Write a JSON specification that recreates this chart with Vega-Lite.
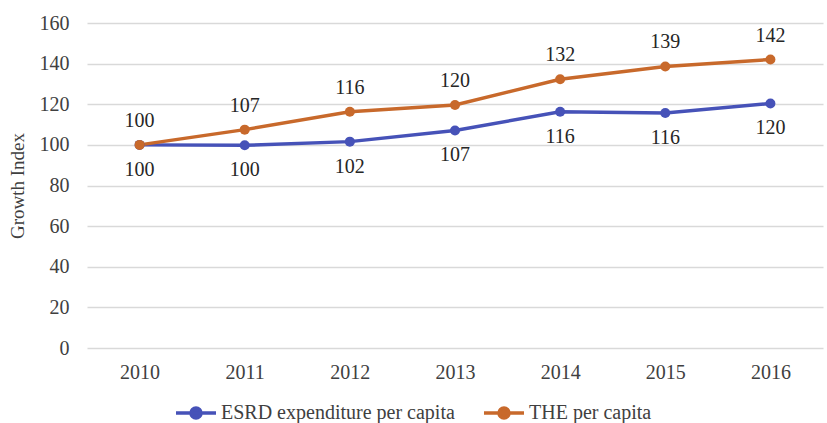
{
  "$schema": "https://vega.github.io/schema/vega-lite/v6.json",
  "width": 736,
  "height": 325,
  "autosize": {"type": "none"},
  "padding": {"left": 87, "right": 4, "top": 23, "bottom": 75},
  "background": "white",
  "config": {
    "font": "Liberation Serif, Times New Roman, DejaVu Serif, serif",
    "view": {"stroke": null},
    "text": {"font": "Liberation Serif, Times New Roman, DejaVu Serif, serif"},
    "axis": {"labelFont": "Liberation Serif, Times New Roman, DejaVu Serif, serif", "titleFont": "Liberation Serif, Times New Roman, DejaVu Serif, serif", "labelColor": "#404040", "titleColor": "#404040"},
    "legend": {"labelFont": "Liberation Serif, Times New Roman, DejaVu Serif, serif"}
  },
  "data": {
    "values": [
      {"year": "2010", "series": "ESRD expenditure per capita", "value": 100, "label": "100"},
      {"year": "2011", "series": "ESRD expenditure per capita", "value": 99.8, "label": "100"},
      {"year": "2012", "series": "ESRD expenditure per capita", "value": 101.6, "label": "102"},
      {"year": "2013", "series": "ESRD expenditure per capita", "value": 107.1, "label": "107"},
      {"year": "2014", "series": "ESRD expenditure per capita", "value": 116.3, "label": "116"},
      {"year": "2015", "series": "ESRD expenditure per capita", "value": 115.7, "label": "116"},
      {"year": "2016", "series": "ESRD expenditure per capita", "value": 120.4, "label": "120"},
      {"year": "2010", "series": "THE per capita", "value": 100, "label": "100"},
      {"year": "2011", "series": "THE per capita", "value": 107.5, "label": "107"},
      {"year": "2012", "series": "THE per capita", "value": 116.3, "label": "116"},
      {"year": "2013", "series": "THE per capita", "value": 119.6, "label": "120"},
      {"year": "2014", "series": "THE per capita", "value": 132.3, "label": "132"},
      {"year": "2015", "series": "THE per capita", "value": 138.6, "label": "139"},
      {"year": "2016", "series": "THE per capita", "value": 142.0, "label": "142"}
    ]
  },
  "encoding": {
    "x": {
      "field": "year", "type": "ordinal",
      "scale": {"type": "point", "padding": 0.5},
      "axis": {"title": null, "labelAngle": 0, "domain": false, "ticks": false, "labelFontSize": 20, "labelPadding": 14, "grid": false}
    },
    "y": {
      "field": "value", "type": "quantitative",
      "scale": {"domain": [0, 160]},
      "axis": {"title": "Growth Index", "values": [0, 20, 40, 60, 80, 100, 120, 140, 160], "domain": false, "ticks": false, "labelFontSize": 20, "labelPadding": 18, "gridColor": "#d9d9d9", "gridWidth": 1.5, "titleFontSize": 19, "titleFontWeight": "normal", "titlePadding": 12}
    }
  },
  "layer": [
    {
      "mark": {"type": "line", "strokeWidth": 3.5, "point": {"size": 100, "filled": true}},
      "encoding": {
        "color": {
          "field": "series", "type": "nominal",
          "scale": {"domain": ["ESRD expenditure per capita", "THE per capita"], "range": ["#4652b8", "#c8692b"]},
          "legend": {
            "title": null, "orient": "none", "legendX": 87, "legendY": 368, "direction": "horizontal",
            "labelFontSize": 20, "labelColor": "#404040", "labelLimit": 500,
            "symbolType": "M-1,0L1,0M-0.25,0A0.25,0.25,0,1,0,0.25,0A0.25,0.25,0,1,0,-0.25,0Z",
            "symbolSize": 1600, "symbolStrokeWidth": 3.5, "labelOffset": 3, "columnPadding": 22,
            "encode": {"symbols": {"update": {"fill": {"scale": "color", "field": "value"}, "fillOpacity": {"value": 1}}}}
          }
        }
      }
    },
    {
      "transform": [{"filter": "datum.series == 'THE per capita'"}],
      "mark": {"type": "text", "dy": -24, "fontSize": 20, "color": "#262626"},
      "encoding": {"text": {"field": "label"}}
    },
    {
      "transform": [{"filter": "datum.series == 'ESRD expenditure per capita'"}],
      "mark": {"type": "text", "dy": 25, "fontSize": 20, "color": "#262626"},
      "encoding": {"text": {"field": "label"}}
    }
  ]
}
